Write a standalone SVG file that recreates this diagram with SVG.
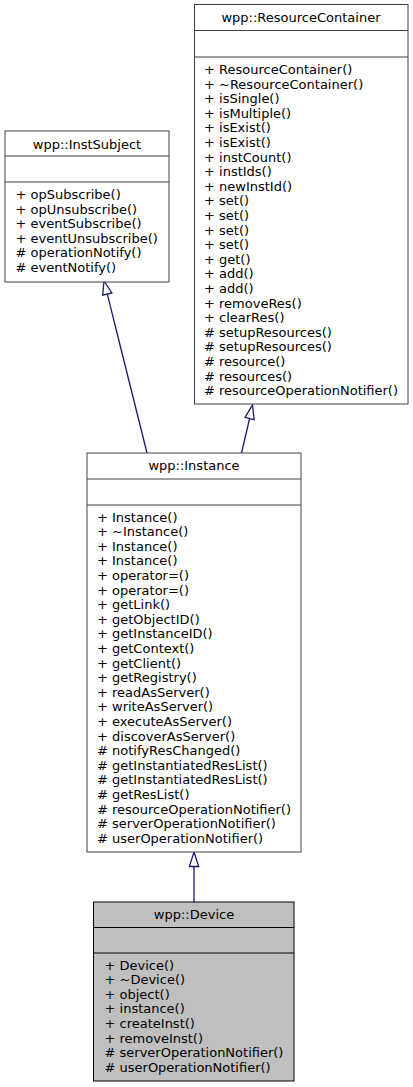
<svg xmlns="http://www.w3.org/2000/svg" width="413" height="1087" viewBox="0 0 413 1087">
<style>
text{font-family:"DejaVu Sans","Liberation Sans",sans-serif;font-size:13px;fill:#000}
.t{text-anchor:middle}
.box{fill:#fff;stroke:#404040;stroke-width:1}
.cur{fill:#bfbfbf;stroke:#000;stroke-width:1}
.sep{stroke:#404040;stroke-width:1}
.sepc{stroke:#000;stroke-width:1}
.edge{fill:none;stroke:#191970;stroke-width:1.3}
.head{fill:#fff;stroke:#191970;stroke-width:1.3}
</style>
<rect width="413" height="1087" fill="#fff"/>
<g id="connectors">
<path class="edge" d="M147,453 L107.3,294.1"/>
<polygon class="head" points="104,281 111.9,293 102.7,295.2"/>
<path class="edge" d="M241.5,453 L249.6,418.5"/>
<polygon class="head" points="252.5,405 254.2,419.6 245,417.4"/>
<path class="edge" d="M194,902 L194,866.5"/>
<polygon class="head" points="194,852 198.7,866.5 189.3,866.5"/>
</g>
<g id="ResourceContainer">
<rect class="box" x="194.5" y="4.5" width="213.5" height="399.5"/>
<line class="sep" x1="194.5" y1="30.5" x2="408" y2="30.5"/>
<line class="sep" x1="194.5" y1="57" x2="408" y2="57"/>
<text class="t" x="301" y="22">wpp::ResourceContainer</text>
<text>
<tspan x="204" y="74">+ ResourceContainer()</tspan>
<tspan x="204" y="88.6">+ ~ResourceContainer()</tspan>
<tspan x="204" y="103.2">+ isSingle()</tspan>
<tspan x="204" y="117.8">+ isMultiple()</tspan>
<tspan x="204" y="132.4">+ isExist()</tspan>
<tspan x="204" y="147">+ isExist()</tspan>
<tspan x="204" y="161.6">+ instCount()</tspan>
<tspan x="204" y="176.2">+ instIds()</tspan>
<tspan x="204" y="190.8">+ newInstId()</tspan>
<tspan x="204" y="205.4">+ set()</tspan>
<tspan x="204" y="220">+ set()</tspan>
<tspan x="204" y="234.6">+ set()</tspan>
<tspan x="204" y="249.2">+ set()</tspan>
<tspan x="204" y="263.8">+ get()</tspan>
<tspan x="204" y="278.4">+ add()</tspan>
<tspan x="204" y="293">+ add()</tspan>
<tspan x="204" y="307.6">+ removeRes()</tspan>
<tspan x="204" y="322.2">+ clearRes()</tspan>
<tspan x="204" y="336.8"># setupResources()</tspan>
<tspan x="204" y="351.4"># setupResources()</tspan>
<tspan x="204" y="366"># resource()</tspan>
<tspan x="204" y="380.6"># resources()</tspan>
<tspan x="204" y="395.2"># resourceOperationNotifier()</tspan>
</text>
</g>
<g id="InstSubject">
<rect class="box" x="5" y="131" width="164" height="151"/>
<line class="sep" x1="5" y1="156" x2="169" y2="156"/>
<line class="sep" x1="5" y1="182" x2="169" y2="182"/>
<text class="t" x="87" y="149">wpp::InstSubject</text>
<text>
<tspan x="15.5" y="199">+ opSubscribe()</tspan>
<tspan x="15.5" y="213.6">+ opUnsubscribe()</tspan>
<tspan x="15.5" y="228.2">+ eventSubscribe()</tspan>
<tspan x="15.5" y="242.8">+ eventUnsubscribe()</tspan>
<tspan x="15.5" y="257.4"># operationNotify()</tspan>
<tspan x="15.5" y="272"># eventNotify()</tspan>
</text>
</g>
<g id="Instance">
<rect class="box" x="87" y="453" width="214" height="399"/>
<line class="sep" x1="87" y1="479" x2="301" y2="479"/>
<line class="sep" x1="87" y1="505" x2="301" y2="505"/>
<text class="t" x="194" y="470">wpp::Instance</text>
<text>
<tspan x="97" y="521.5">+ Instance()</tspan>
<tspan x="97" y="536.1">+ ~Instance()</tspan>
<tspan x="97" y="550.7">+ Instance()</tspan>
<tspan x="97" y="565.3">+ Instance()</tspan>
<tspan x="97" y="579.9">+ operator=()</tspan>
<tspan x="97" y="594.5">+ operator=()</tspan>
<tspan x="97" y="609.1">+ getLink()</tspan>
<tspan x="97" y="623.7">+ getObjectID()</tspan>
<tspan x="97" y="638.3">+ getInstanceID()</tspan>
<tspan x="97" y="652.9">+ getContext()</tspan>
<tspan x="97" y="667.5">+ getClient()</tspan>
<tspan x="97" y="682.1">+ getRegistry()</tspan>
<tspan x="97" y="696.7">+ readAsServer()</tspan>
<tspan x="97" y="711.3">+ writeAsServer()</tspan>
<tspan x="97" y="725.9">+ executeAsServer()</tspan>
<tspan x="97" y="740.5">+ discoverAsServer()</tspan>
<tspan x="97" y="755.1"># notifyResChanged()</tspan>
<tspan x="97" y="769.7"># getInstantiatedResList()</tspan>
<tspan x="97" y="784.3"># getInstantiatedResList()</tspan>
<tspan x="97" y="798.9"># getResList()</tspan>
<tspan x="97" y="813.5"># resourceOperationNotifier()</tspan>
<tspan x="97" y="828.1"># serverOperationNotifier()</tspan>
<tspan x="97" y="842.7"># userOperationNotifier()</tspan>
</text>
</g>
<g id="Device">
<rect class="cur" x="93.5" y="902" width="200.5" height="179"/>
<line class="sepc" x1="93.5" y1="927.5" x2="294" y2="927.5"/>
<line class="sepc" x1="93.5" y1="953" x2="294" y2="953"/>
<text class="t" x="194" y="918.5">wpp::Device</text>
<text>
<tspan x="104.5" y="969.5">+ Device()</tspan>
<tspan x="104.5" y="984.1">+ ~Device()</tspan>
<tspan x="104.5" y="998.7">+ object()</tspan>
<tspan x="104.5" y="1013.3">+ instance()</tspan>
<tspan x="104.5" y="1027.9">+ createInst()</tspan>
<tspan x="104.5" y="1042.5">+ removeInst()</tspan>
<tspan x="104.5" y="1057.1"># serverOperationNotifier()</tspan>
<tspan x="104.5" y="1071.7"># userOperationNotifier()</tspan>
</text>
</g>
</svg>
